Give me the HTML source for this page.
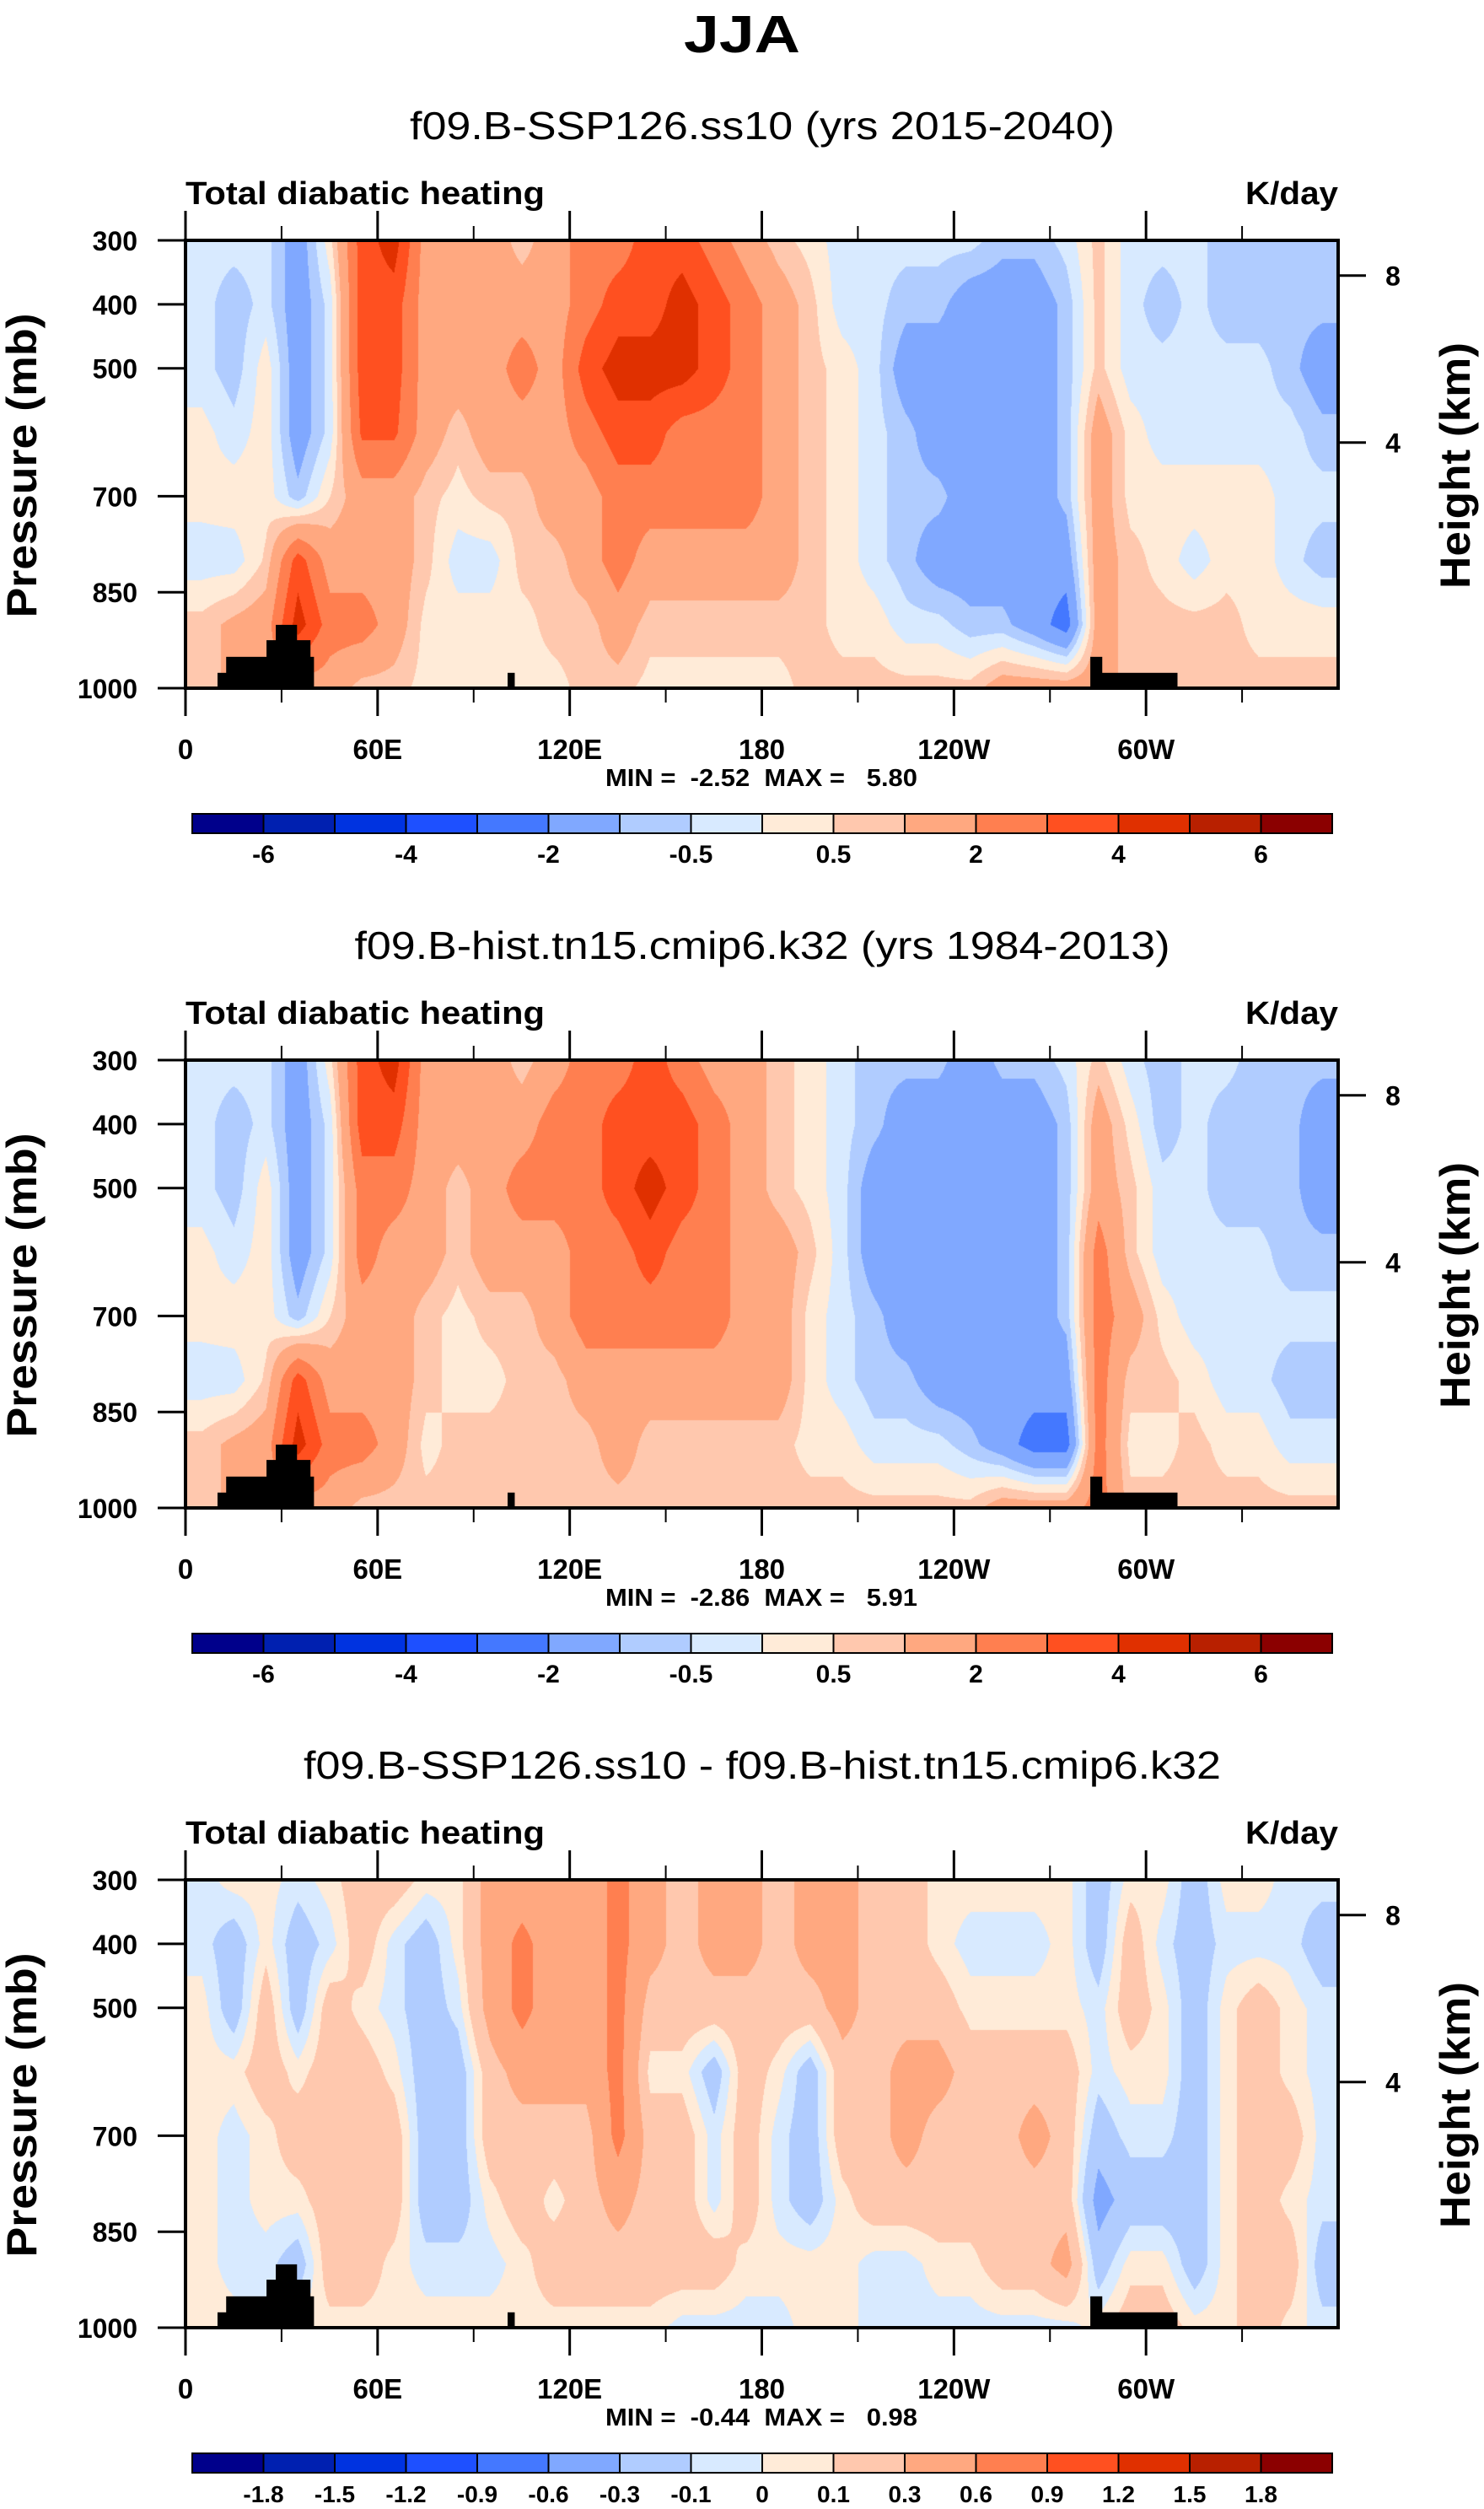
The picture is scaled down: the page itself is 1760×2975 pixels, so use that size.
<!DOCTYPE html>
<html><head><meta charset="utf-8">
<style>
html,body{margin:0;padding:0;background:#fff;}
#root{position:relative;width:1760px;height:2975px;overflow:hidden;background:#fff;}
canvas{position:absolute;}
svg{position:absolute;left:0;top:0;}
text{font-family:"Liberation Sans",sans-serif;white-space:pre;}
</style></head>
<body>
<div id="root">
<canvas id="c0" width="1367" height="531" style="left:220px;top:285px"></canvas>
<canvas id="c1" width="1367" height="531" style="left:220px;top:1257px"></canvas>
<canvas id="c2" width="1367" height="531" style="left:220px;top:2229px"></canvas>
<svg id="s" width="1760" height="2975"></svg>
</div>
<script>
const lonCenters=[5,15,25,35,45,55,65,75,85,95,105,115,125,135,145,155,165,175,185,195,205,215,225,235,245,255,265,275,285,295,305,315,325,335,345,355];
const pLevels=[300,400,500,600,700,800,900,1000];
const levelsMain=[-6,-5,-4,-3,-2,-1,-0.5,0,0.5,1,2,3,4,5,6];
const levelsDiff=[-1.8,-1.5,-1.2,-0.9,-0.6,-0.3,-0.1,0,0.1,0.3,0.6,0.9,1.2,1.5,1.8];
const labelsMain=["-6","","-4","","-2","","-0.5","","0.5","","2","","4","","6"];
const labelsDiff=["-1.8","-1.5","-1.2","-0.9","-0.6","-0.3","-0.1","0","0.1","0.3","0.6","0.9","1.2","1.5","1.8"];
const colors=["#00008B","#0020B0","#0033E0","#1E50FF","#4478FF","#80A8FF","#B0CCFF","#D8EAFF","#FFEBD8","#FFC8AE","#FFA880","#FF7F50","#FF5020","#E03000","#B82000","#8B0000"];
const field1=[
[-0.3,-0.3,-0.3,0.2,0.2,-0.3,0.7,0.7],
[-0.3,-0.8,-0.8,-0.3,0.3,-0.3,1.2,1.2],
[-0.3,-0.3,0.3,0.3,0.3,0.6,1.5,1.5],
[-1.5,-1.5,-1.5,-1.5,-0.8,3.5,4.5,1.5],
[0.3,-0.3,-0.3,-0.3,0.5,1.5,2.5,1.5],
[3.5,3.5,3.5,3.2,1.5,1.5,2.5,0.7],
[4.5,3.5,3.5,3.2,1.5,1.5,1.5,0.7],
[1.5,1.5,1.5,1.5,0.7,0.7,0.3,0.3],
[1.5,1.5,1.5,0.7,0.3,-0.3,0.3,0.3],
[1.5,1.5,1.5,1.5,0.7,-0.3,0.3,0.3],
[0.7,1.5,2.5,1.5,0.7,0.7,0.3,0.3],
[1.5,1.5,1.5,1.5,1.5,0.7,0.7,0.3],
[2.5,2.5,3.5,2.5,1.5,1.5,0.7,0.7],
[2.5,3.5,4.5,3.5,2.5,2.5,1.5,0.7],
[3.5,3.5,4.5,3.5,2.5,1.5,0.7,0.3],
[3.5,4.5,4.5,2.5,2.5,1.5,0.7,0.3],
[2.5,3.5,3.5,2.5,2.5,1.5,0.7,0.3],
[1.5,2.5,2.5,2.5,2.5,1.5,0.7,0.3],
[0.7,1.5,1.5,1.5,1.5,1.5,0.7,0.3],
[0.3,0.7,0.7,0.7,0.7,0.7,0.7,0.7],
[-0.3,-0.3,0.3,0.3,0.3,0.3,0.3,0.7],
[-0.3,-0.3,-0.3,-0.3,-0.3,-0.3,0.3,0.7],
[-0.3,-0.8,-1.5,-0.8,-0.8,-0.8,-0.3,0.7],
[-0.3,-0.8,-1.5,-1.5,-0.8,-1.5,-0.3,0.7],
[-0.3,-1.5,-1.5,-1.5,-1.5,-1.5,-0.8,0.7],
[-0.8,-1.5,-1.5,-1.5,-1.5,-1.5,-0.8,1.5],
[-0.8,-1.5,-1.5,-1.5,-1.5,-1.5,-1.5,1.5],
[-0.3,-0.8,-0.8,-0.8,-0.8,-1.5,-2.5,1.5],
[0.7,0.7,0.7,1.5,1.5,1.5,1.5,1.5],
[-0.3,-0.3,-0.3,0.3,0.3,0.7,0.7,0.7],
[-0.3,-0.8,-0.3,-0.3,0.3,0.3,0.7,0.7],
[-0.3,-0.3,-0.3,-0.3,0.3,-0.3,0.7,0.7],
[-0.8,-0.8,-0.3,-0.3,0.3,0.3,0.7,0.7],
[-0.8,-0.8,-0.3,-0.3,0.3,0.3,0.3,0.7],
[-0.8,-0.8,-0.8,-0.3,-0.3,-0.3,0.3,0.7],
[-0.8,-0.8,-1.5,-0.8,-0.3,-0.8,0.3,0.7]];
const field2=[
[-0.3,-0.3,-0.3,0.2,0.2,-0.3,0.7,0.7],
[-0.3,-0.8,-0.8,-0.3,0.3,-0.3,1.2,1.2],
[-0.3,-0.3,0.3,0.3,0.3,0.6,1.5,1.5],
[-1.5,-1.5,-1.5,-1.5,-0.8,3.5,4.5,1.5],
[0.3,-0.3,-0.3,-0.3,0.5,1.5,2.5,1.5],
[3.5,3.5,2.5,2.5,1.5,1.5,2.5,0.7],
[4.5,3.5,2.5,1.5,1.5,1.5,1.5,0.7],
[1.5,1.5,1.5,1.5,0.7,0.7,0.3,0.7],
[1.5,1.5,0.7,0.7,0.3,0.3,0.7,0.7],
[1.5,1.5,1.5,1.5,0.7,0.3,0.7,0.7],
[0.7,1.5,2.5,1.5,0.7,0.7,0.7,0.7],
[1.5,2.5,2.5,1.5,1.5,0.7,0.7,0.7],
[2.5,2.5,2.5,2.5,2.5,1.5,0.7,0.7],
[2.5,3.5,3.5,2.5,2.5,1.5,1.5,0.7],
[3.5,3.5,4.5,3.5,2.5,1.5,0.7,0.7],
[2.5,3.5,3.5,2.5,2.5,1.5,0.7,0.7],
[1.5,2.5,2.5,2.5,2.5,1.5,0.7,0.7],
[1.5,1.5,1.5,1.5,1.5,1.5,0.7,0.7],
[0.7,0.7,0.7,1.5,1.5,1.5,0.7,0.7],
[0.3,0.3,0.3,0.7,0.3,0.3,0.3,0.7],
[-0.3,-0.3,-0.3,-0.3,-0.3,-0.3,0.3,0.7],
[-0.8,-0.8,-1.5,-1.5,-0.8,-0.8,-0.3,0.7],
[-0.8,-1.5,-1.5,-1.5,-1.5,-0.8,-0.3,0.7],
[-0.8,-1.5,-1.5,-1.5,-1.5,-1.5,-0.3,0.7],
[-1.5,-1.5,-1.5,-1.5,-1.5,-1.5,-0.8,0.7],
[-0.8,-1.5,-1.5,-1.5,-1.5,-1.5,-1.5,1.5],
[-0.8,-1.5,-1.5,-1.5,-1.5,-1.5,-2.5,1.5],
[-0.3,-0.8,-0.8,-0.8,-0.8,-1.5,-2.5,1.5],
[0.7,1.5,1.5,2.5,2.5,2.5,2.5,2.5],
[-0.3,0.3,0.7,0.7,1.5,0.7,0.3,0.7],
[-0.8,-0.8,-0.3,-0.3,0.3,0.7,0.3,0.7],
[-0.3,-0.3,-0.3,-0.3,-0.3,0.3,0.7,0.7],
[-0.3,-0.8,-0.8,-0.3,-0.3,-0.3,0.3,0.7],
[-0.8,-0.8,-0.8,-0.3,-0.3,-0.3,0.3,0.7],
[-0.8,-0.8,-0.8,-0.8,-0.3,-0.8,-0.3,0.7],
[-0.8,-1.5,-1.5,-0.8,-0.3,-0.8,-0.3,0.7]];
const field3=[
[-0.05,-0.05,0.05,0.05,0.05,0.05,0.05,0.05],
[0.05,-0.2,-0.2,0.05,-0.05,-0.05,-0.05,0.05],
[0.05,0.05,0.2,0.2,0.05,0.05,-0.05,0.05],
[-0.05,-0.2,-0.2,0.05,0.2,0.05,-0.2,0.05],
[0.05,-0.05,0.2,0.2,0.2,0.2,0.2,0.05],
[0.2,0.2,0.05,0.2,0.2,0.2,0.2,0.05],
[0.2,-0.05,-0.05,0.05,0.2,0.2,0.05,0.05],
[0.05,-0.2,-0.2,-0.2,-0.2,-0.2,-0.05,0.05],
[0.05,0.05,-0.05,-0.2,-0.2,-0.2,-0.05,0.05],
[0.4,0.4,0.4,0.2,0.2,0.05,-0.05,0.05],
[0.4,0.7,0.7,0.4,0.2,0.2,0.05,0.05],
[0.4,0.4,0.4,0.4,0.2,0.05,0.2,0.05],
[0.4,0.4,0.4,0.4,0.2,0.2,0.2,0.05],
[0.7,0.7,0.7,0.7,0.7,0.4,0.2,0.05],
[0.4,0.4,0.2,0.05,0.2,0.2,0.2,0.05],
[0.2,0.2,0.2,0.05,0.2,0.2,0.2,-0.05],
[0.4,0.4,0.2,-0.2,-0.05,-0.05,0.2,-0.05],
[0.4,0.4,0.2,0.2,0.2,0.2,0.05,-0.05],
[0.2,0.2,0.2,0.05,-0.05,-0.05,0.05,-0.05],
[0.4,0.4,0.2,-0.2,-0.2,-0.2,0.05,0.05],
[0.4,0.4,0.4,0.2,0.2,0.05,0.05,0.05],
[0.2,0.2,0.2,0.2,0.2,0.2,-0.05,-0.05],
[0.2,0.2,0.2,0.4,0.4,0.2,-0.05,-0.05],
[0.05,0.05,0.2,0.4,0.2,0.2,0.05,-0.05],
[0.05,-0.05,0.05,0.2,0.2,0.2,0.05,-0.05],
[0.05,-0.05,0.05,0.2,0.2,0.2,0.2,-0.05],
[0.05,-0.05,0.05,0.2,0.4,0.2,0.2,-0.05],
[0.05,0.05,0.05,0.2,0.2,0.2,0.4,-0.05],
[-0.2,-0.2,-0.05,-0.05,-0.2,-0.4,-0.2,0.05],
[0.05,0.2,0.2,0.05,-0.05,-0.2,0.05,0.2],
[0.05,-0.05,0.05,0.05,-0.05,-0.2,0.05,0.2],
[-0.2,-0.2,-0.2,-0.2,-0.2,-0.2,-0.2,0.05],
[0.05,-0.05,0.05,0.05,0.05,0.05,0.05,0.05],
[0.05,-0.05,0.2,0.2,0.2,0.2,0.2,0.2],
[-0.05,-0.05,0.05,0.05,0.2,0.05,0.2,0.05],
[-0.05,-0.2,-0.05,-0.05,-0.05,-0.05,-0.2,-0.05]];
const terrLon0=[10,12.7,25.3,28.2,34.7,38.9,100.6,282.6,286.2];
const terrLon1=[12.7,25.3,28.2,34.7,38.9,40,102.7,286.2,309.7];
const terrPs=[976,951,925,901,925,951,976,951,976];
const pressTicks=[300,400,500,700,850,1000];
const heightTicks=[8,4];
const heightPress=[355,616];
const lonMajor=[0,60,120,180,240,300];
const lonMajorLabels=["0","60E","120E","180","120W","60W"];
const lonMinor=[30,90,150,210,270,330];
const subtitles=["f09.B-SSP126.ss10 (yrs 2015-2040)","f09.B-hist.tn15.cmip6.k32 (yrs 1984-2013)","f09.B-SSP126.ss10 - f09.B-hist.tn15.cmip6.k32"];
const subtitleWidths=[836,967,1088];
const minmax=["MIN =  -2.52  MAX =   5.80","MIN =  -2.86  MAX =   5.91","MIN =  -0.44  MAX =   0.98"];

const PL=220,PW=1367,PH=531;
const offsets=[0,972,1944];
const fields=[field1,field2,field3];
const xScale=lon=>PL+lon/360*PW;
const yScale=(p,top)=>top+(p-300)/700*PH;

function interp(f,lon,p){
  let ci=(lon-5)/10; ci=Math.max(0,Math.min(35,ci));
  let c0=Math.floor(ci),c1=Math.min(35,c0+1),fx=ci-c0;
  let ri=(p-300)/100; ri=Math.max(0,Math.min(7,ri));
  let r0=Math.floor(ri),r1=Math.min(7,r0+1),fy=ri-r0;
  const a=f[c0][r0]*(1-fx)+f[c1][r0]*fx, b=f[c0][r1]*(1-fx)+f[c1][r1]*fx;
  return a*(1-fy)+b*fy;
}
function hex(c){return [parseInt(c.slice(1,3),16),parseInt(c.slice(3,5),16),parseInt(c.slice(5,7),16)];}
const rgb=colors.map(hex);
fields.forEach((f,k)=>{
  const lv=k==2?levelsDiff:levelsMain;
  const cv=document.getElementById('c'+k),ctx=cv.getContext('2d');
  const img=ctx.createImageData(PW,PH);
  for(let y=0;y<PH;y++){const p=300+y/PH*700;
    for(let x=0;x<PW;x++){const lon=x/PW*360;const v=interp(f,lon,p);
      let i=0;while(i<lv.length&&v>=lv[i])i++;
      const c=rgb[i],o=(y*PW+x)*4;img.data[o]=c[0];img.data[o+1]=c[1];img.data[o+2]=c[2];img.data[o+3]=255;}}
  ctx.putImageData(img,0,0);
});

const S=document.getElementById('s');const NS='http://www.w3.org/2000/svg';
function el(tag,attrs,txt){const e=document.createElementNS(NS,tag);for(const k in attrs)e.setAttribute(k,attrs[k]);if(txt!==undefined)e.textContent=txt;S.appendChild(e);return e;}
let e=el('text',{x:880,y:62,'text-anchor':'middle','font-size':62,'font-weight':'bold',textLength:138,lengthAdjust:'spacingAndGlyphs'},'JJA');



offsets.forEach((off,k)=>{
  const top=285+off,bot=top+PH;
  e=el('text',{x:904,y:165+off,'text-anchor':'middle','font-size':46,textLength:subtitleWidths[k],lengthAdjust:'spacingAndGlyphs'},subtitles[k]);
  
  
  e=el('text',{x:220,y:242+off,'font-size':38,'font-weight':'bold',textLength:426,lengthAdjust:'spacingAndGlyphs'},'Total diabatic heating');
  
  
  e=el('text',{x:1587,y:242+off,'text-anchor':'end','font-size':38,'font-weight':'bold',textLength:110,lengthAdjust:'spacingAndGlyphs'},'K/day');
  
  
  terrPs.forEach((ps,i)=>{
    const x0=xScale(terrLon0[i]),x1=xScale(terrLon1[i]),y0=yScale(ps,top);
    const r=el('rect',{x:x0,y:y0,width:x1-x0+0.5,height:bot-y0,fill:'#000'});
    
    
  });
  e=el('rect',{x:PL,y:top,width:PW,height:PH,fill:'none',stroke:'#000','stroke-width':4});
  
  
  lonMajor.forEach((lon,i)=>{
    const x=xScale(lon);
    el('line',{x1:x,y1:top,x2:x,y2:top-35,stroke:'#000','stroke-width':3});
    el('line',{x1:x,y1:bot,x2:x,y2:bot+33,stroke:'#000','stroke-width':3});
    const t=el('text',{x:x,y:bot+84,'text-anchor':'middle','font-size':33,'font-weight':'bold'},lonMajorLabels[i]);
    
    
  });
  lonMinor.forEach(lon=>{const x=xScale(lon);
    el('line',{x1:x,y1:top,x2:x,y2:top-17,stroke:'#000','stroke-width':2});
    el('line',{x1:x,y1:bot,x2:x,y2:bot+17,stroke:'#000','stroke-width':2});});
  pressTicks.forEach(p=>{const y=yScale(p,top);
    el('line',{x1:PL,y1:y,x2:PL-33,y2:y,stroke:'#000','stroke-width':3});
    const t=el('text',{x:163,y:y+12,'text-anchor':'end','font-size':32,'font-weight':'bold'},String(p));
    
    
  });
  heightTicks.forEach((h,i)=>{const y=yScale(heightPress[i],top);
    el('line',{x1:PL+PW,y1:y,x2:PL+PW+33,y2:y,stroke:'#000','stroke-width':3});
    const t=el('text',{x:1652,y:y+12,'text-anchor':'middle','font-size':32,'font-weight':'bold'},String(h));
    
    
  });
  e=el('text',{x:0,y:0,'text-anchor':'middle','font-size':50,'font-weight':'bold',textLength:361,lengthAdjust:'spacingAndGlyphs',transform:`translate(43,${top+267}) rotate(-90)`},'Pressure (mb)');
  
  
  e=el('text',{x:0,y:0,'text-anchor':'middle','font-size':50,'font-weight':'bold',textLength:292,lengthAdjust:'spacingAndGlyphs',transform:`translate(1743,${top+267}) rotate(-90)`},'Height (km)');
  
  
  e=el('text',{x:903,y:932+off,'text-anchor':'middle','font-size':29,'font-weight':'bold',textLength:370,lengthAdjust:'spacingAndGlyphs'},minmax[k]);
  
  
  const cbL=228,cbW=1352,bw=cbW/16,cbT=965+off;
  colors.forEach((c,i)=>{
    const r=el('rect',{x:cbL+i*bw,y:cbT,width:bw,height:23,fill:c,stroke:'#000','stroke-width':2});
    
    
  });
  const labs=k==2?labelsDiff:labelsMain;
  labs.forEach((l,i)=>{if(!l)return;
    const t=el('text',{x:cbL+(i+1)*bw,y:1023+off,'text-anchor':'middle','font-size':k==2?28:30,'font-weight':'bold'},l);
    
    
  });
});
</script>
</body></html>
